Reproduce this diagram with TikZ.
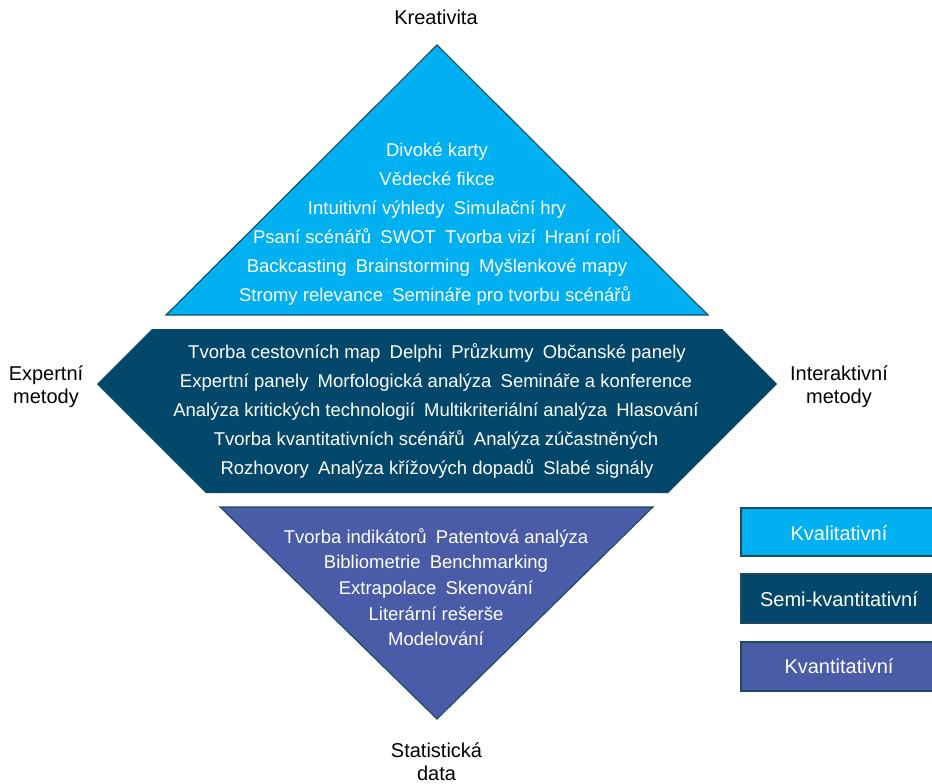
\documentclass[tikz,border=0pt]{standalone}
\usepackage{fontspec}
\setmainfont{Liberation Sans}
\definecolor{lblue}{HTML}{00B0F0}
\definecolor{dteal}{HTML}{03486A}
\definecolor{pblue}{HTML}{4A5BA8}
\definecolor{edgec}{HTML}{1E4A5E}
\newcommand\gp{\hspace{0.22em}}
\tikzset{
  shapeedge/.style={draw=edgec, line width=1.1pt, line join=miter},
  intext/.style={text=white, font=\fontsize{18.5}{20}\selectfont, inner sep=0pt, anchor=base},
  lbl/.style={text=black, font=\fontsize{20}{23.5}\selectfont, inner sep=0pt, anchor=base, align=center},
  legbox/.style={draw=edgec, line width=1.3pt},
  legtext/.style={text=white, font=\fontsize{20}{22}\selectfont, inner sep=0pt, anchor=base},
}
\begin{document}
\begin{tikzpicture}[x=1pt,y=-1pt]
\useasboundingbox (0,0) rectangle (932,784);
\clip (0,0) rectangle (932,784);

% shapes
\fill[lblue, shapeedge] (437,45) -- (708,315) -- (166,315) -- cycle;
\fill[dteal] (152,329) -- (722,329) -- (777,384) -- (668,493) -- (206,493) -- (97,384) -- cycle;
\fill[pblue, shapeedge] (220,507) -- (653,507) -- (437,719) -- cycle;

% top triangle text
\node[intext] (t1) at (437,156) {Divoké karty};
\node[intext] (t2) at (437,185) {Vědecké fikce};
\node[intext] (t3) at (437,214) {Intuitivní výhledy \gp Simulační hry};
\node[intext] (t4) at (437,243) {Psaní scénářů \gp SWOT \gp Tvorba vizí \gp Hraní rolí};
\node[intext] (t5) at (437,272.7) {Backcasting \gp Brainstorming \gp Myšlenkové mapy};
\node[intext] (t6) at (435,301) {Stromy relevance \gp Semináře pro tvorbu scénářů};

% hexagon text
\node[intext] (m1) at (437,358) {Tvorba cestovních map \gp Delphi \gp Průzkumy \gp Občanské panely};
\node[intext] (m2) at (436,387) {Expertní panely \gp Morfologická analýza \gp Semináře a konference};
\node[intext] (m3) at (436,416) {Analýza kritických technologií \gp Multikriteriální analýza \gp Hlasování};
\node[intext] (m4) at (436,445.5) {Tvorba kvantitativních scénářů \gp Analýza zúčastněných};
\node[intext] (m5) at (437,474) {Rozhovory \gp Analýza křížových dopadů \gp Slabé signály};

% bottom triangle text
\node[intext] (b1) at (436,543.3) {Tvorba indikátorů \gp Patentová analýza};
\node[intext] (b2) at (436,568.7) {Bibliometrie \gp Benchmarking};
\node[intext] (b3) at (436,594.5) {Extrapolace \gp Skenování};
\node[intext] (b4) at (436,620) {Literární rešerše};
\node[intext] (b5) at (436,645.5) {Modelování};

% outer labels
\node[lbl] (kre) at (436,25) {Kreativita};
\node[lbl] (exp1) at (46,380) {Expertní};
\node[lbl] (exp2) at (46,403.5) {metody};
\node[lbl] (int1) at (839,380) {Interaktivní};
\node[lbl] (int2) at (839,403.5) {metody};
\node[lbl] (st1) at (436.5,757.5) {Statistická};
\node[lbl] (st2) at (436.5,780) {data};

% legend
\fill[lblue, legbox] (741,508) rectangle (940,556);
\fill[dteal, legbox] (741,574) rectangle (940,623);
\fill[pblue, legbox] (741,642) rectangle (940,691);
\node[legtext] (l1) at (839,540) {Kvalitativní};
\node[legtext] (l2) at (839,606.5) {Semi-kvantitativní};
\node[legtext] (l3) at (839,673.5) {Kvantitativní};
\end{tikzpicture}
\end{document}
